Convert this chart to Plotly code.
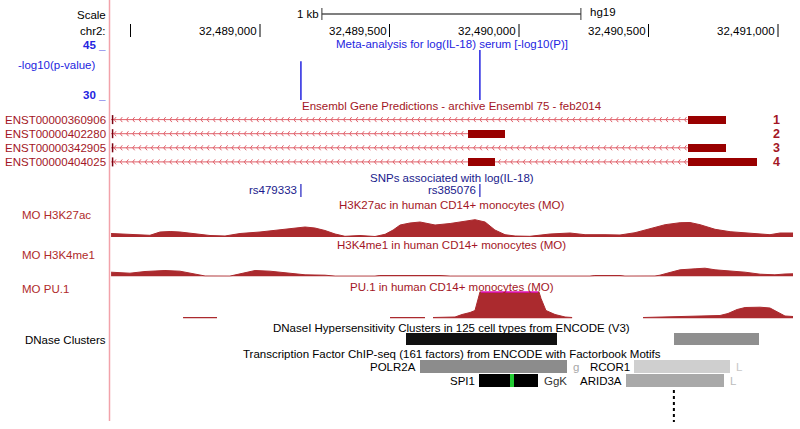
import plotly.graph_objects as go

W, H = 800, 429

# ---------------- data ----------------
# ruler
RULER_TICKS = [32488500, 32489000, 32489500, 32490000, 32490500, 32491000]
RULER_LABELS = ["", "32,489,000", "32,489,500", "32,490,000", "32,490,500", "32,491,000"]
SCALE_BAR_START = 32489239
SCALE_BAR_LEN = 1000
VIEW_START = 32488425
VIEW_END = 32491058

# GWAS meta-analysis  -log10(P)
GWAS_POS = [32489158, 32489849]
GWAS_LOGP = [41.2, 44.4]

# Ensembl transcripts (minus strand, extending left beyond the view)
TX_NAMES = ["ENST00000360906", "ENST00000402280", "ENST00000342905", "ENST00000404025"]
TX_END = [32490799, 32489946, 32490799, 32490919]
TX_EXONS = [
    [(32490653, 32490799)],
    [(32489803, 32489946)],
    [(32490653, 32490799)],
    [(32489803, 32489907), (32490653, 32490919)],
]
TX_NUMBERS = ["1", "2", "3", "4"]

# SNPs
SNP_NAMES = ["rs479333", "rs385076"]
SNP_POS = [32489158, 32489849]

# H3K27ac signal
K27_POS = [32488425, 32488479, 32488537, 32488575, 32488614, 32488653, 32488691, 32488730,
           32488768, 32488807, 32488865, 32488923, 32489000, 32489077, 32489135, 32489174,
           32489212, 32489251, 32489290, 32489328, 32489386, 32489444, 32489483, 32489514,
           32489541, 32489579, 32489618, 32489676, 32489734, 32489792, 32489830, 32489869,
           32489907, 32489946, 32489985, 32490042, 32490120, 32490197, 32490255, 32490332,
           32490390, 32490448, 32490506, 32490564, 32490622, 32490660, 32490699, 32490757,
           32490815, 32490892, 32490969, 32491008, 32491058]
K27_VAL = [3.5, 3.0, 2.0, 1.7, 5.0, 5.5, 5.0, 3.7,
           2.5, 1.5, 1.0, 3.5, 5.0, 7.0, 8.5, 10.0,
           9.0, 6.5, 3.0, 0.7, 1.5, 0.5, 2.7, 7.0,
           12.0, 14.0, 15.0, 12.0, 13.5, 16.0, 17.3, 15.0,
           7.0, 2.3, 1.0, 0.7, 3.0, 4.0, 2.3, 2.3,
           2.0, 4.3, 8.3, 12.3, 14.3, 14.5, 12.3, 7.7,
           5.3, 4.0, 2.3, 4.0, 4.0]

# H3K4me1 signal
K4_POS = [32488425, 32488498, 32488556, 32488633, 32488691, 32488749, 32488788, 32488884,
          32488923, 32488981, 32489039, 32489077, 32489116, 32489174, 32489251, 32489290,
          32489444, 32489463, 32489695, 32489734, 32490274, 32490293, 32490390, 32490409,
          32490525, 32490544, 32490575, 32490622, 32490680, 32490718, 32490757, 32490815,
          32490873, 32490931, 32490988, 32491027, 32491058]
K4_VAL = [4.3, 3.3, 5.0, 6.0, 5.3, 2.7, 0.5, 0.4,
          2.7, 6.0, 5.3, 4.3, 2.7, 1.7, 1.3, 0.4,
          0.4, 1.0, 1.0, 0.4, 0.4, 1.0, 1.0, 0.4,
          0.5, 1.3, 3.5, 6.7, 7.7, 8.3, 6.7, 5.7,
          4.3, 2.3, 1.7, 2.5, 2.7]

# PU.1 signal, in separate covered segments
PU1_POS_1 = [32488703, 32488834]
PU1_VAL_1 = [1.0, 1.0]
PU1_POS_2 = [32489502, 32489637]
PU1_VAL_2 = [1.0, 1.0]
PU1_POS_3 = [32489668, 32489753, 32489780, 32489811, 32489830, 32489842, 32489853, 32490073,
             32490085, 32490104, 32490139, 32490178, 32490205]
PU1_VAL_3 = [1.0, 1.5, 4.0, 6.0, 8.0, 20.0, 30.0, 30.0,
             20.0, 8.0, 4.0, 1.5, 1.0]
PU1_POS_4 = [32490479, 32490583, 32490699, 32490776, 32490807, 32490842, 32490873, 32490931,
             32490969, 32491000, 32491027, 32491058]
PU1_VAL_4 = [1.0, 1.5, 2.0, 3.0, 5.0, 9.0, 11.0, 11.3,
             10.5, 6.0, 2.5, 2.0]
PU1_MAX = 27

# DNase clusters
DNASE_START = [32489564, 32490598]
DNASE_END = [32490147, 32490927]
DNASE_COLOR = ["#111111", "#8f8f8f"]

# TF ChIP-seq
TF_NAMES = ["POLR2A", "RCOR1", "SPI1", "ARID3A"]
TF_START = [32489618, 32490444, 32489846, 32490413]
TF_END = [32490185, 32490815, 32490073, 32490792]
TF_ROW = [0, 0, 1, 1]
TF_COLOR = ["#8c8c8c", "#cfcfcf", "#000000", "#a9a9a9"]
TF_SUFFIX = ["g", "L", "GgK", "L"]
TF_SUFFIX_COLOR = ["#a8a8a8", "#c8c8c8", "#333333", "#bcbcbc"]
MOTIF_START, MOTIF_END = 32489966, 32489980
DOTTED_POS = 32490598

# ---------------- layout helpers ----------------
PX_PER_BP = 0.259
REF_POS, REF_PX = 32489000, 260
X0 = REF_POS - REF_PX / PX_PER_BP
X1 = REF_POS + (W - REF_PX) / PX_PER_BP


def bp_of_px(n):
    return n / PX_PER_BP


def fx(px):
    return px / W


def fy(py):
    return 1 - py / H


def dom(top, bottom):
    return [1 - bottom / H, 1 - top / H]


FONT = "Liberation Sans, Arial, Helvetica, sans-serif"
DARKRED = "#a31625"
SIGNAL = "#ab2a2e"
INTRON = "#e0606a"
EXON = "#990000"
BLUE = "#2424e0"
NAVY = "#1a1a8c"

fig = go.Figure()
annotations = []
shapes = []


def text(x, y, s, color="#000000", xanchor="center", size=11.5, bold=False):
    annotations.append(dict(
        x=fx(x), y=fy(y), xref="paper", yref="paper",
        text=f"<b>{s}</b>" if bold else s, showarrow=False,
        xanchor=xanchor, yanchor="middle",
        font=dict(family=FONT, size=size, color=color)))


# ---------------- ruler ----------------
text(108, 15, "Scale", xanchor="right")
text(108, 31, "chr2:", xanchor="right")
for pos, lab in zip(RULER_TICKS, RULER_LABELS):
    shapes.append(dict(type="line", xref="x", yref="paper", x0=pos, x1=pos,
                       y0=fy(24), y1=fy(37), line=dict(color="#000000", width=1)))
    if lab:
        annotations.append(dict(x=pos, y=fy(31), xref="x", yref="paper", text=lab,
                                showarrow=False, xanchor="right", yanchor="middle", xshift=-1,
                                font=dict(family=FONT, size=11.5, color="#000000")))
sb0, sb1 = SCALE_BAR_START, SCALE_BAR_START + SCALE_BAR_LEN
shapes.append(dict(type="line", xref="x", yref="paper", x0=sb0, x1=sb1, y0=fy(14), y1=fy(14),
                   line=dict(color="#555555", width=1.5)))
for p in (sb0, sb1):
    shapes.append(dict(type="line", xref="x", yref="paper", x0=p, x1=p, y0=fy(8), y1=fy(20),
                       line=dict(color="#333333", width=1)))
annotations.append(dict(x=sb0, y=fy(14), xref="x", yref="paper", text="1 kb", showarrow=False,
                        xanchor="right", yanchor="middle", xshift=-1,
                        font=dict(family=FONT, size=11.5, color="#000000")))
annotations.append(dict(x=sb1, y=fy(11.5), xref="x", yref="paper", text="hg19", showarrow=False,
                        xanchor="left", yanchor="middle", xshift=7,
                        font=dict(family=FONT, size=11.5, color="#000000")))

# ---------------- GWAS ----------------
text(452, 44, "Meta-analysis for log(IL-18) serum [-log10(P)]", BLUE)
text(108, 45, "45 _", BLUE, xanchor="right", bold=True)
text(108, 95, "30 _", BLUE, xanchor="right", bold=True)
text(57, 65, "-log10(p-value)", BLUE)
gx, gy = [], []
for p, v in zip(GWAS_POS, GWAS_LOGP):
    gx += [p, p, None]
    gy += [30, v, None]
fig.add_trace(go.Scatter(x=gx, y=gy, mode="lines", line=dict(color=BLUE, width=1.5),
                         xaxis="x", yaxis="y2", hoverinfo="skip"))

# ---------------- genes ----------------
text(452, 106, "Ensembl Gene Predictions - archive Ensembl 75 - feb2014", DARKRED)
ROW_Y = [119.6, 133.7, 147.8, 161.9]
for i, name in enumerate(TX_NAMES):
    yrow = ROW_Y[i]
    exons = TX_EXONS[i]
    text(108, yrow, name, DARKRED, xanchor="right")
    text(776, yrow, TX_NUMBERS[i], DARKRED, size=12.5, bold=True)
    # intron line pieces between exons
    lx, ly = [], []
    prev = VIEW_START
    for s, e in exons:
        if s > prev:
            lx += [prev, s, None]
            ly += [yrow, yrow, None]
        prev = e
    fig.add_trace(go.Scatter(x=lx, y=ly, mode="lines", line=dict(color=INTRON, width=1),
                             xaxis="x", yaxis="y", hoverinfo="skip"))
    # strand chevrons
    cx, cy = [], []
    step = bp_of_px(6.2)
    c = VIEW_START + bp_of_px(3)
    while c < TX_END[i] - bp_of_px(2):
        if not any(s - bp_of_px(3) <= c <= e for s, e in exons):
            cx += [c + bp_of_px(2), c, c + bp_of_px(2), None]
            cy += [yrow - 2.5, yrow, yrow + 2.5, None]
        c += step
    fig.add_trace(go.Scatter(x=cx, y=cy, mode="lines", line=dict(color=INTRON, width=1),
                             xaxis="x", yaxis="y", hoverinfo="skip"))
    # continuation tick at the left edge
    fig.add_trace(go.Scatter(x=[VIEW_START + bp_of_px(1.5)] * 2, y=[yrow - 4.5, yrow + 4.5],
                             mode="lines", line=dict(color="#7a0010", width=1.5),
                             xaxis="x", yaxis="y", hoverinfo="skip"))
    fig.add_trace(go.Bar(orientation="h", y=[yrow] * len(exons),
                         x=[e - s for s, e in exons], base=[s for s, e in exons],
                         width=8, marker=dict(color=EXON, line=dict(width=0)),
                         xaxis="x", yaxis="y", hoverinfo="skip"))

# ---------------- SNPs ----------------
text(452, 178, "SNPs associated with log(IL-18)", NAVY)
for name, p in zip(SNP_NAMES, SNP_POS):
    fig.add_trace(go.Scatter(x=[p, p], y=[184, 197], mode="lines",
                             line=dict(color="#2020c0", width=1.2), xaxis="x", yaxis="y",
                             hoverinfo="skip"))
    annotations.append(dict(x=p, y=fy(190), xref="x", yref="paper", text=name, showarrow=False,
                            xanchor="right", yanchor="middle", xshift=-2,
                            font=dict(family=FONT, size=11.5, color=NAVY)))


# ---------------- signal tracks ----------------
def signal(xs, ys, axis):
    fig.add_trace(go.Scatter(x=xs, y=ys, mode="lines", fill="tozeroy",
                             line=dict(color=SIGNAL, width=1), fillcolor=SIGNAL,
                             xaxis="x", yaxis=axis, hoverinfo="skip"))


text(452, 205, "H3K27ac in human CD14+ monocytes (MO)", DARKRED)
text(20, 215, "MO H3K27ac", "#b02a2a", xanchor="left")
signal(K27_POS, K27_VAL, "y3")

text(452, 245, "H3K4me1 in human CD14+ monocytes (MO)", DARKRED)
text(20, 255, "MO H3K4me1", "#b02a2a", xanchor="left")
signal(K4_POS, K4_VAL, "y4")

text(452, 286.5, "PU.1 in human CD14+ monocytes (MO)", DARKRED)
text(20, 289, "MO PU.1", "#b02a2a", xanchor="left")
for xs, ys in [(PU1_POS_1, PU1_VAL_1), (PU1_POS_2, PU1_VAL_2),
               (PU1_POS_3, PU1_VAL_3), (PU1_POS_4, PU1_VAL_4)]:
    signal(xs, ys, "y5")
    # clipping indicator where the signal exceeds the track maximum
    clip = [p for p, v in zip(xs, ys) if v > PU1_MAX]
    if clip:
        fig.add_trace(go.Scatter(x=[min(clip), max(clip)], y=[PU1_MAX - 0.3] * 2, mode="lines",
                                 line=dict(color="#ff00ff", width=1.5), xaxis="x", yaxis="y5",
                                 hoverinfo="skip"))

# ---------------- DNase clusters ----------------
text(452, 327.5, "DNaseI Hypersensitivity Clusters in 125 cell types from ENCODE (V3)")
text(108, 340, "DNase Clusters", xanchor="right")
fig.add_trace(go.Bar(orientation="h", y=[339] * len(DNASE_START),
                     x=[e - s for s, e in zip(DNASE_START, DNASE_END)], base=DNASE_START,
                     width=12, marker=dict(color=DNASE_COLOR, line=dict(width=0)),
                     xaxis="x", yaxis="y", hoverinfo="skip"))

# ---------------- TF ChIP-seq ----------------
text(452, 353.5, "Transcription Factor ChIP-seq (161 factors) from ENCODE with Factorbook Motifs")
TF_ROW_Y = [366.5, 380.5]
fig.add_trace(go.Bar(orientation="h", y=[TF_ROW_Y[r] for r in TF_ROW],
                     x=[e - s for s, e in zip(TF_START, TF_END)], base=TF_START,
                     width=12.5, marker=dict(color=TF_COLOR, line=dict(width=0)),
                     xaxis="x", yaxis="y", hoverinfo="skip"))
fig.add_trace(go.Bar(orientation="h", y=[TF_ROW_Y[1]], x=[MOTIF_END - MOTIF_START],
                     base=[MOTIF_START], width=12.5,
                     marker=dict(color="#22cc33", line=dict(width=0)),
                     xaxis="x", yaxis="y", hoverinfo="skip"))
for n, s, e, r, suf, sc in zip(TF_NAMES, TF_START, TF_END, TF_ROW, TF_SUFFIX, TF_SUFFIX_COLOR):
    yy = TF_ROW_Y[r]
    annotations.append(dict(x=s, y=fy(yy), xref="x", yref="paper", text=n, showarrow=False,
                            xanchor="right", yanchor="middle", xshift=-2,
                            font=dict(family=FONT, size=11.5, color="#000000")))
    annotations.append(dict(x=e, y=fy(yy), xref="x", yref="paper", text=suf, showarrow=False,
                            xanchor="left", yanchor="middle", xshift=4,
                            font=dict(family=FONT, size=11.5, color=sc)))
fig.add_trace(go.Scatter(x=[DOTTED_POS, DOTTED_POS], y=[390, 422], mode="lines",
                         line=dict(color="#000000", width=2, dash="dot"),
                         xaxis="x", yaxis="y", hoverinfo="skip"))

# left border of the data image
shapes.append(dict(type="line", xref="paper", yref="paper", x0=fx(109.5), x1=fx(109.5),
                   y0=fy(0), y1=fy(421), line=dict(color="#f2a2aa", width=1.5)))

hidden = dict(visible=False, fixedrange=True)
fig.update_layout(
    width=W, height=H, margin=dict(l=0, r=0, t=0, b=0),
    paper_bgcolor="white", plot_bgcolor="white", showlegend=False,
    barmode="overlay", bargap=0,
    xaxis=dict(range=[X0, X1], domain=[0, 1], anchor="y", **hidden),
    yaxis=dict(range=[H, 0], domain=[0, 1], anchor="x", **hidden),
    yaxis2=dict(range=[30, 45], domain=dom(48, 100), anchor="x", **hidden),
    yaxis3=dict(range=[0, 24], domain=dom(213, 237), anchor="x", **hidden),
    yaxis4=dict(range=[0, 24], domain=dom(252.5, 276.5), anchor="x", **hidden),
    yaxis5=dict(range=[0, PU1_MAX], domain=dom(291.5, 318.5), anchor="x", **hidden),
    annotations=annotations, shapes=shapes,
)

fig.write_html("out.html", config={"staticPlot": True},
               post_script="document.body.style.margin='0';document.body.style.overflow='hidden';")
